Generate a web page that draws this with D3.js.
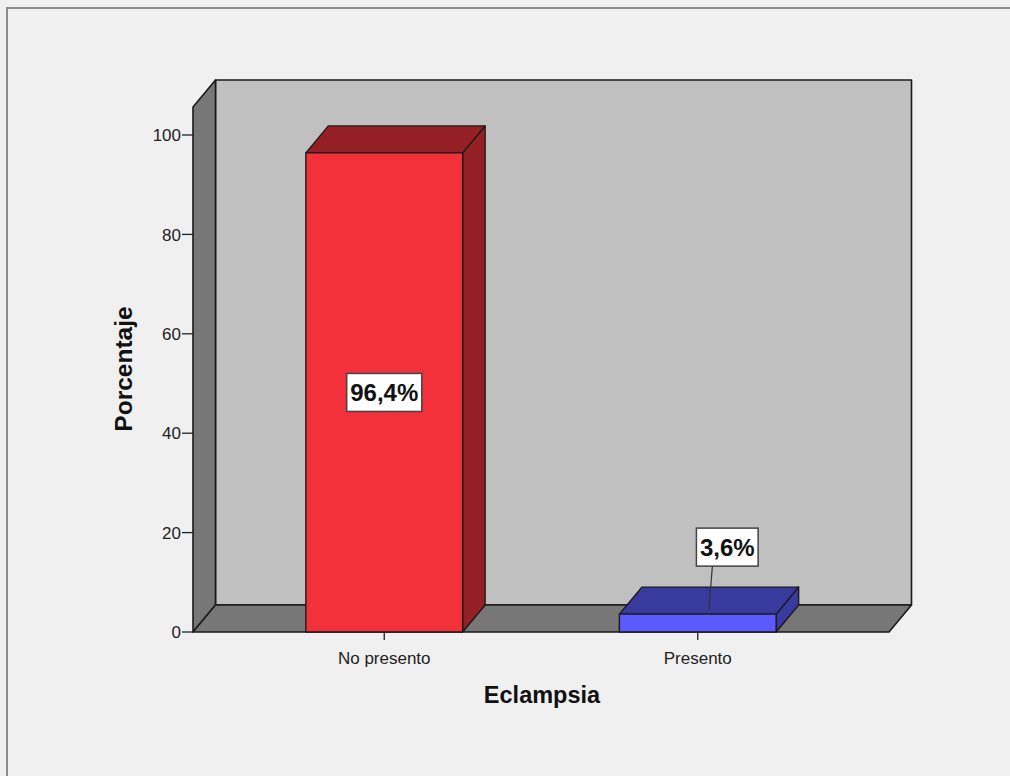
<!DOCTYPE html>
<html>
<head>
<meta charset="utf-8">
<script src="https://cdn.jsdelivr.net/npm/d3@7"></script>
<style>
  html, body { margin: 0; padding: 0; background: #f0f0f0; }
  svg { display: block; }
</style>
</head>
<body>
<div id="chart"></div>
<script>
const categories = ["No presento", "Presento"]
const percentages = [96.4, 3.6]
const valueLabels = ["96,4%", "3,6%"]
const yTicks = [0, 20, 40, 60, 80, 100]

const WIDTH = 1010
const HEIGHT = 776
const FONT = "'Liberation Sans', Arial, sans-serif"

// front plane of the plot, and depth offset of the 3D box
const FRONT = { LEFT: 193, RIGHT: 889, TOP: 135, BOTTOM: 632, WALLTOP: 107 }
const DEPTH = { X: 22.5, Y: -27 }

const frontColors = ["#f2313b", "#5a5aff"]
const sideColors = ["#941f24", "#393a9e"]

const svg = d3.select("#chart")
    .append("svg")
    .attr("width", WIDTH)
    .attr("height", HEIGHT)

// outer frame
svg.append("rect")
    .attr("x", 7).attr("y", 8)
    .attr("width", WIDTH + 10).attr("height", HEIGHT + 10)
    .attr("fill", "#f0f0f0")
    .attr("stroke", "#8c8c8c")
    .attr("stroke-width", 2)

const y = d3.scaleLinear()
    .domain([0, 100])
    .range([FRONT.BOTTOM, FRONT.TOP])

const x = d3.scaleBand()
    .domain(categories)
    .range([FRONT.LEFT, FRONT.RIGHT])
    .paddingInner(0.5)
    .paddingOuter(0.36)

const dx = DEPTH.X, dy = DEPTH.Y
const line = d3.line()
const poly = pts => line(pts) + "Z"

const box = svg.append("g")
    .attr("stroke", "#1a1a1a")
    .attr("stroke-width", 1.6)
    .attr("stroke-linejoin", "round")

// back wall
box.append("path")
    .attr("d", poly([[FRONT.LEFT + dx, FRONT.WALLTOP + dy], [FRONT.RIGHT + dx, FRONT.WALLTOP + dy],
        [FRONT.RIGHT + dx, FRONT.BOTTOM + dy], [FRONT.LEFT + dx, FRONT.BOTTOM + dy]]))
    .attr("fill", "#c0c0c0")

// left wall
box.append("path")
    .attr("d", poly([[FRONT.LEFT, FRONT.WALLTOP], [FRONT.LEFT + dx, FRONT.WALLTOP + dy],
        [FRONT.LEFT + dx, FRONT.BOTTOM + dy], [FRONT.LEFT, FRONT.BOTTOM]]))
    .attr("fill", "#777777")

// floor
box.append("path")
    .attr("d", poly([[FRONT.LEFT, FRONT.BOTTOM], [FRONT.LEFT + dx, FRONT.BOTTOM + dy],
        [FRONT.RIGHT + dx, FRONT.BOTTOM + dy], [FRONT.RIGHT, FRONT.BOTTOM]]))
    .attr("fill", "#777777")

// y axis ticks
const yAxis = svg.append("g")
    .attr("font-family", FONT)
    .attr("font-size", 17)
    .attr("fill", "#222")

yAxis.selectAll("line")
    .data(yTicks)
    .join("line")
    .attr("x1", FRONT.LEFT - 11).attr("x2", FRONT.LEFT)
    .attr("y1", d => y(d)).attr("y2", d => y(d))
    .attr("stroke", "#222").attr("stroke-width", 1.3)

yAxis.selectAll("text")
    .data(yTicks)
    .join("text")
    .attr("x", FRONT.LEFT - 12)
    .attr("y", d => y(d))
    .attr("dy", "0.36em")
    .attr("text-anchor", "end")
    .text(d => d)

// bars
const bars = svg.append("g")
    .attr("stroke", "#1a1a1a")
    .attr("stroke-width", 1.4)
    .attr("stroke-linejoin", "round")
    .selectAll("g")
    .data(categories.map((c, i) => ({ name: c, value: percentages[i], i })))
    .join("g")

// right side
bars.append("path")
    .attr("fill", d => sideColors[d.i])
    .attr("d", d => {
        const x1 = x(d.name) + x.bandwidth(), y0 = y(d.value)
        return poly([[x1, y0], [x1 + dx, y0 + dy], [x1 + dx, FRONT.BOTTOM + dy], [x1, FRONT.BOTTOM]])
    })

// top
bars.append("path")
    .attr("fill", d => sideColors[d.i])
    .attr("d", d => {
        const x0 = x(d.name), x1 = x0 + x.bandwidth(), y0 = y(d.value)
        return poly([[x0, y0], [x0 + dx, y0 + dy], [x1 + dx, y0 + dy], [x1, y0]])
    })

// front
bars.append("rect")
    .attr("fill", d => frontColors[d.i])
    .attr("x", d => x(d.name))
    .attr("y", d => y(d.value))
    .attr("width", x.bandwidth())
    .attr("height", d => FRONT.BOTTOM - y(d.value))

// x axis ticks and labels
const xAxis = svg.append("g")
    .attr("font-family", FONT)
    .attr("font-size", 17)
    .attr("fill", "#222")

xAxis.selectAll("line")
    .data(categories)
    .join("line")
    .attr("x1", d => x(d) + x.bandwidth() / 2).attr("x2", d => x(d) + x.bandwidth() / 2)
    .attr("y1", FRONT.BOTTOM).attr("y2", FRONT.BOTTOM + 8)
    .attr("stroke", "#222").attr("stroke-width", 1.3)

xAxis.selectAll("text")
    .data(categories)
    .join("text")
    .attr("x", d => x(d) + x.bandwidth() / 2)
    .attr("y", FRONT.BOTTOM + 32)
    .attr("text-anchor", "middle")
    .text(d => d)

// value labels
const labels = svg.append("g")
    .attr("font-family", FONT)
    .attr("font-size", 24)
    .attr("font-weight", "bold")

categories.forEach((c, i) => {
    const cx = x(c) + x.bandwidth() / 2
    const inside = percentages[i] > 20
    const txt = labels.append("text")
        .attr("text-anchor", "middle")
        .attr("fill", "#111")
        .text(valueLabels[i])
    const w = txt.node().getComputedTextLength() + 7
    const h = 38
    let bx, by
    if (inside) {
        bx = cx - w / 2
        by = y(percentages[i] / 2) - h / 2
    } else {
        bx = cx - w / 2 + 29.5
        by = y(percentages[i]) - 48 - h
        // leader line to the top face
        labels.append("line")
            .attr("x1", bx + 16).attr("y1", by + h)
            .attr("x2", cx + 11).attr("y2", y(percentages[i]) - 4)
            .attr("stroke", "#333").attr("stroke-width", 1.2)
    }
    labels.insert("rect", "text")
        .attr("x", bx).attr("y", by)
        .attr("width", w).attr("height", h)
        .attr("fill", "#fff")
        .attr("stroke", "#444").attr("stroke-width", 1.5)
    txt.attr("x", bx + w / 2).attr("y", by + h / 2).attr("dy", "0.36em")
})

// axis titles
svg.append("text")
    .attr("x", 542).attr("y", 703)
    .attr("text-anchor", "middle")
    .attr("font-family", FONT)
    .attr("font-size", 23.5)
    .attr("font-weight", "bold")
    .attr("fill", "#111")
    .text("Eclampsia")

svg.append("text")
    .attr("transform", "translate(132, 369) rotate(-90)")
    .attr("text-anchor", "middle")
    .attr("font-family", FONT)
    .attr("font-size", 24.5)
    .attr("font-weight", "bold")
    .attr("fill", "#111")
    .text("Porcentaje")
</script>
</body>
</html>
